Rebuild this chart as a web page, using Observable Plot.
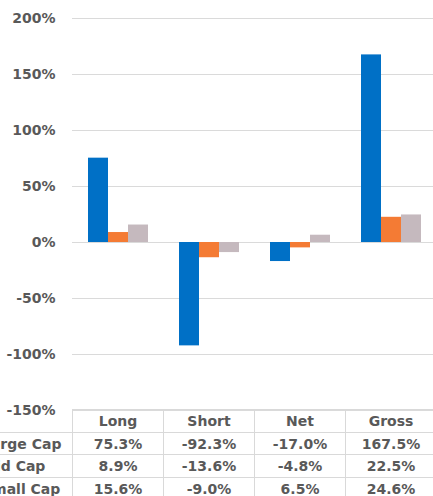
<!DOCTYPE html>
<html><head><meta charset="utf-8">
<script src="https://cdn.jsdelivr.net/npm/d3@7"></script>
<script src="https://cdn.jsdelivr.net/npm/@observablehq/plot@0.6"></script>
<style>
html,body{margin:0;padding:0;background:#fff;overflow:hidden;width:433px;height:496px;}
#wrap{position:relative;width:436px;height:496px;}
#chart{position:absolute;left:0;top:0;}
table{position:absolute;top:409px;left:-20px;border-collapse:collapse;table-layout:fixed;width:456px;
  font-family:"DejaVu Sans";font-weight:bold;font-size:14px;color:#595959;}
td{border:1.5px solid #d9d9d9;padding:0;text-align:center;white-space:nowrap;overflow:hidden;}
td.lab{text-align:left;padding-left:1px;}
tr.head td.lab{border-top:none;border-left:none;}
</style></head>
<body><div id="wrap"><div id="chart"></div></div>
<script>
const categories = ["Long", "Short", "Net", "Gross"];
const series = ["Large Cap", "Mid Cap", "Small Cap"];
const largeCap = [75.3, -92.3, -17.0, 167.5];
const midCap = [8.9, -13.6, -4.8, 22.5];
const smallCap = [15.6, -9.0, 6.5, 24.6];
const yTicks = [-150, -100, -50, 0, 50, 100, 150, 200];
const colors = ["#0070C6", "#F47B34", "#C5B9BE"];

const valuesBySeries = [largeCap, midCap, smallCap];
const data = [];
series.forEach((s, i) => categories.forEach((c, j) => data.push({cat: c, series: s, value: valuesBySeries[i][j]})));

const fmt = d => d + "%";
const chart = Plot.plot({
  width: 436, height: 420,
  marginLeft: 72, marginRight: 0, marginTop: 18, marginBottom: 10,
  style: {fontFamily: "DejaVu Sans", fontWeight: "bold", fontSize: "14px", color: "#595959", background: "transparent", overflow: "visible"},
  fx: {domain: categories, padding: 0, axis: null},
  x: {domain: series, paddingInner: 0, paddingOuter: 0.72, axis: null},
  y: {domain: [-150, 200], axis: null},
  color: {domain: series, range: colors},
  marks: [
    Plot.gridY(yTicks, {stroke: "#dadada", strokeOpacity: 1, strokeWidth: 1.2}),
    Plot.barY(data, {fx: "cat", x: "series", y: "value", fill: "series"}),
    Plot.axisY(yTicks, {tickFormat: fmt, tickSize: 0, tickPadding: 17, label: null, fill: "#595959"})
  ]
});
document.getElementById("chart").appendChild(chart);

// table below
const table = d3.select("#wrap").append("table");
const cg = table.append("colgroup");
cg.append("col").style("width", "92px");
categories.forEach(() => cg.append("col").style("width", "91px"));
const head = table.append("tr").attr("class", "head").style("height", "23px");
head.append("td").attr("class", "lab").text("");
categories.forEach(c => head.append("td").text(c));
series.forEach((s, i) => {
  const tr = table.append("tr").style("height", i === 0 ? "22px" : "23px");
  tr.append("td").attr("class", "lab").text(s);
  valuesBySeries[i].forEach(v => tr.append("td").text(v.toFixed(1) + "%"));
});
</script></body></html>
